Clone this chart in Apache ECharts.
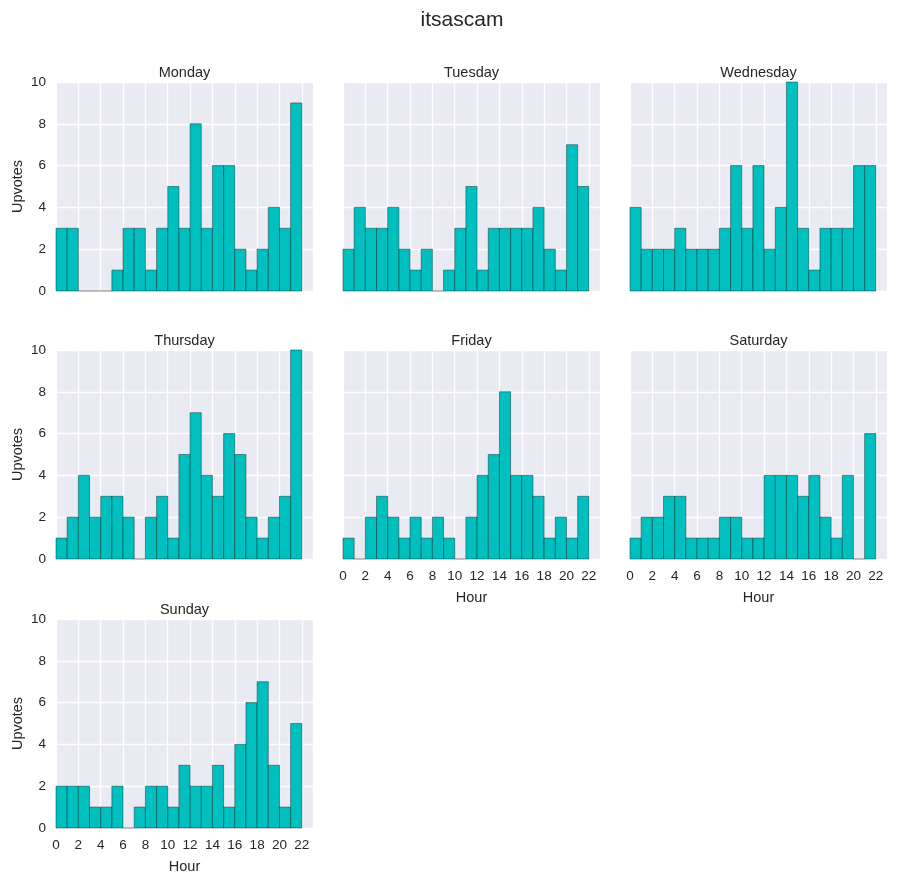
<!DOCTYPE html>
<html>
<head>
<meta charset="utf-8">
<script src="https://cdn.jsdelivr.net/npm/echarts@6/dist/echarts.min.js"></script>
<style>
html,body{margin:0;padding:0;background:#fff;}
#c{width:897px;height:884px;}
</style>
</head>
<body>
<div id="c"></div>
<script>
// Histogram bins: hour 0..22, width 1
const binEdges = [0,1,2,3,4,5,6,7,8,9,10,11,12,13,14,15,16,17,18,19,20,21,22];
const days = ['Monday','Tuesday','Wednesday','Thursday','Friday','Saturday','Sunday'];
const monday    = [3,3,0,0,0,1,3,3,1,3,5,3,8,3,6,6,2,1,2,4,3,9];
const tuesday   = [2,4,3,3,4,2,1,2,0,1,3,5,1,3,3,3,3,4,2,1,7,5];
const wednesday = [4,2,2,2,3,2,2,2,3,6,3,6,2,4,10,3,1,3,3,3,6,6];
const thursday  = [1,2,4,2,3,3,2,0,2,3,1,5,7,4,3,6,5,2,1,2,3,10];
const friday    = [1,0,2,3,2,1,2,1,2,1,0,2,4,5,8,4,4,3,1,2,1,3];
const saturday  = [1,2,2,3,3,1,1,1,2,2,1,1,4,4,4,3,4,2,1,4,0,6];
const sunday    = [2,2,2,1,1,2,0,1,2,2,1,3,2,2,3,1,4,6,7,3,1,5];
const dayValues = [monday,tuesday,wednesday,thursday,friday,saturday,sunday];
const xTicksMin = 0, xTicksMax = 23, xTickStep = 2;
const yMin = 0, yMax = 10, yStep = 2;

const chart = echarts.init(document.getElementById('c'), null, {renderer:'canvas'});
const colLeft = [56, 343, 630];
const rowTop = [82, 350, 619];
const pw = 257, ph = 209;
const txt = '#262626';
const font = 'Liberation Sans, Arial, sans-serif';

const grids = [], xAxes = [], yAxes = [], series = [];
const titles = [{text:'itsascam', left:457, textAlign:'center', top:5,
  textStyle:{fontSize:21, fontWeight:'normal', color:txt, fontFamily:font}}];

days.forEach((d, i) => {
  const r = Math.floor(i/3), c = i%3;
  grids.push({left: colLeft[c], top: rowTop[r], width: pw, height: ph,
    show:true, backgroundColor:'#EAEAF2', borderWidth:0});
  const showX = (i >= 4);
  const showY = (c === 0);
  xAxes.push({type:'value', gridIndex:i, min:xTicksMin, max:xTicksMax, interval:xTickStep,
    axisLine:{show:false}, axisTick:{show:false},
    splitLine:{show:true, lineStyle:{color:'#ffffff', width:1.3}},
    axisLabel:{show:showX, showMaxLabel:false, margin:10, fontSize:13.5, color:txt, fontFamily:font},
    name: showX ? 'Hour' : '', nameLocation:'middle', nameGap:31,
    nameTextStyle:{fontSize:14.5, color:txt, fontFamily:font}});
  yAxes.push({type:'value', gridIndex:i, min:yMin, max:yMax, interval:yStep,
    axisLine:{show:false}, axisTick:{show:false},
    splitLine:{show:true, lineStyle:{color:'#ffffff', width:1.3}},
    axisLabel:{show:showY, margin:10, fontSize:13.5, color:txt, fontFamily:font},
    name: showY ? 'Upvotes' : '', nameLocation:'middle', nameGap:31,
    nameTextStyle:{fontSize:14.5, color:txt, fontFamily:font}});
  titles.push({text:d, left: colLeft[c] + pw/2 - 5, textAlign:'center', top: rowTop[r]-22,
    textStyle:{fontSize:14.5, fontWeight:'normal', color:txt, fontFamily:font}});
  const vals = dayValues[i];
  series.push({type:'custom', xAxisIndex:i, yAxisIndex:i,
    data: vals.map((v,k)=>[binEdges[k], binEdges[k+1], v]),
    renderItem:(params, api)=>{
      const x0 = api.value(0), x1 = api.value(1), y = api.value(2);
      const p0 = api.coord([x0, y]);
      const p1 = api.coord([x1, 0]);
      return {type:'rect',
        shape:{x:p0[0], y:p0[1], width:p1[0]-p0[0], height:p1[1]-p0[1]},
        style:{fill: y>0 ? '#00BFBF' : 'rgba(0,0,0,0)', stroke: y>0 ? 'rgba(0,40,40,0.45)' : 'rgba(0,0,0,0.25)', lineWidth:1}};
    }});
});

chart.setOption({
  animation:false,
  backgroundColor:'#ffffff',
  title: titles,
  grid: grids,
  xAxis: xAxes,
  yAxis: yAxes,
  series: series
});
</script>
</body>
</html>
